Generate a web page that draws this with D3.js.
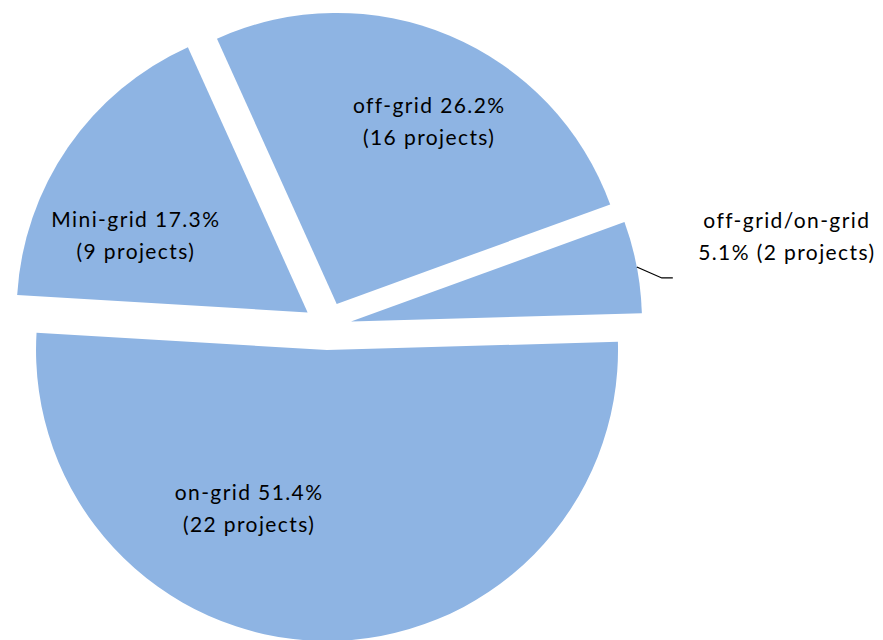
<!DOCTYPE html>
<html>
<head>
<meta charset="utf-8">
<script src="https://cdn.jsdelivr.net/npm/d3@7"></script>
<style>
  body { margin: 0; background: #fff; }
  svg text { font-family: Lato, "Open Sans", sans-serif; fill: #000; letter-spacing: 1.4px; }
</style>
</head>
<body>
<svg id="chart" width="883" height="640"></svg>
<script>
// slices in clockwise order, starting at the top-left edge of "off-grid"
const categories = ["off-grid", "off-grid/on-grid", "on-grid", "Mini-grid"];
const shares = [26.2, 5.1, 51.4, 17.3];
const projects = [16, 2, 22, 9];

const width = 883, height = 640;
const cx = 327.4, cy = 326;
const radius = 291;
const explode = 24;
const startDeg = -24.3;
const fontSize = 21;

// nudges from arc centroid to the first label baseline
const labelNudge = {
  "off-grid": [19, -17],
  "on-grid": [-75, -39],
  "Mini-grid": [-16, 22]
};

const data = categories.map((c, i) => ({ name: c, share: shares[i], projects: projects[i] }));

const pie = d3.pie()
  .sort(null)
  .value((d) => d.share)
  .startAngle(startDeg * Math.PI / 180)
  .endAngle(startDeg * Math.PI / 180 + 2 * Math.PI);

const arc = d3.arc().innerRadius(0).outerRadius(radius);
const labelArc = d3.arc().innerRadius(radius * 0.65).outerRadius(radius * 0.65);
const edgeArc = d3.arc().innerRadius(radius).outerRadius(radius);

const arcs = pie(data);

const svg = d3.select('#chart');
const g = svg.append('g')
  .attr('transform', 'translate(' + cx + ',' + cy + ')');

function offset(d) {
  const mid = (d.startAngle + d.endAngle) / 2;
  return [explode * Math.sin(mid), -explode * Math.cos(mid)];
}

const slice = g.selectAll('.slice')
  .data(arcs)
  .enter()
  .append('g')
  .attr('class', 'slice')
  .attr('transform', (d) => 'translate(' + offset(d) + ')');

slice.append('path')
  .attr('d', arc)
  .attr('fill', '#8eb4e3');

// inside labels
slice.filter((d) => labelNudge[d.data.name])
  .append('text')
  .attr('text-anchor', 'middle')
  .style('font-size', fontSize + 'px')
  .each(function(d) {
    const c = labelArc.centroid(d);
    const n = labelNudge[d.data.name];
    const x = c[0] + n[0], y = c[1] + n[1];
    const t = d3.select(this);
    t.append('tspan').attr('x', x).attr('y', y)
      .text(d.data.name + ' ' + d.data.share.toFixed(1) + '%');
    t.append('tspan').attr('x', x).attr('y', y + 32)
      .text('(' + d.data.projects + ' projects)');
  });

// outside label with leader line for the small slice
const small = slice.filter((d) => !labelNudge[d.data.name]);
small.each(function(d) {
  const p = edgeArc.centroid(d);
  const sel = d3.select(this);
  sel.append('path')
    .attr('d', 'M' + p[0] + ',' + p[1] + 'L' + (p[0] + 25) + ',' + (p[1] + 11) + 'H' + (p[0] + 36))
    .attr('fill', 'none')
    .attr('stroke', '#000')
    .attr('stroke-width', 1.3);
  const x = p[0] + 150, y = p[1] - 39;
  const t = sel.append('text')
    .attr('text-anchor', 'middle')
    .style('font-size', fontSize + 'px');
  t.append('tspan').attr('x', x).attr('y', y).text(d.data.name);
  t.append('tspan').attr('x', x).attr('y', y + 32)
    .text(d.data.share.toFixed(1) + '% (' + d.data.projects + ' projects)');
});
</script>
</body>
</html>
